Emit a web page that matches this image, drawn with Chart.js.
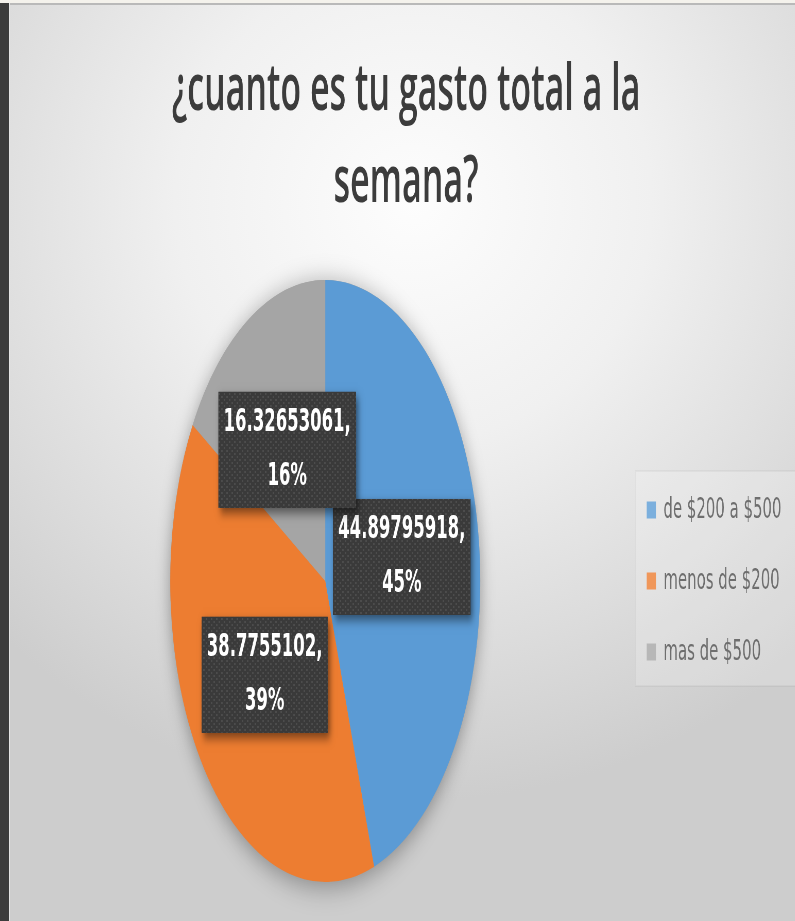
<!DOCTYPE html>
<html>
<head>
<meta charset="utf-8">
<script src="https://cdn.jsdelivr.net/npm/chart.js@4.4.1/dist/chart.umd.min.js"></script>
<style>
  html, body { margin: 0; padding: 0; background: #ffffff; }
  #page {
    position: relative; width: 795px; height: 921px; overflow: hidden;
    background: radial-gradient(ellipse 75% 65% at 52% 22%, #fdfdfd 0%, #f0f0f0 40%, #dcdcdc 75%, #cdcdcd 100%);
  }
  #strip { position: absolute; left: 0; top: 0; width: 9px; height: 921px; background: #3c3c3c; }
  #stripLine { position: absolute; left: 9px; top: 0; width: 1px; height: 921px; background: #e4e4e4; }
  #topCream { position: absolute; left: 0; top: 0; width: 795px; height: 3px; background: #f4f2ec; }
  #topLine { position: absolute; left: 10px; top: 3px; width: 785px; height: 2px; background: #b9b9b9; }
  #wrap {
    position: absolute; left: 10px; top: 0; width: 1524px; height: 921px;
    transform: scaleX(0.515); transform-origin: 0 0;
  }
</style>
</head>
<body>
<div id="page">
  <div id="wrap"><canvas id="c" width="1524" height="921"></canvas></div>
  <div id="strip"></div>
  <div id="stripLine"></div>
  <div id="topCream"></div>
  <div id="topLine"></div>
</div>
<script>
const categories = ['de $200 a $500', 'menos de $200', 'mas de $500'];
const values = [44.89795918, 38.7755102, 16.32653061];
const sliceColors = ['#5B9BD5', '#ED7D31', '#A5A5A5'];
const titleLines = ['¿cuanto es tu gasto total a la', 'semana?'];

// dotted fill for the data label boxes
const pc = document.createElement('canvas');
pc.width = 10; pc.height = 6;
const pctx = pc.getContext('2d');
pctx.fillStyle = '#3a3a3a'; pctx.fillRect(0, 0, 10, 6);
pctx.fillStyle = '#4c4c4c';
pctx.fillRect(0, 0, 3, 2); pctx.fillRect(5, 3, 3, 2);

const legendPanel = {
  id: 'legendPanel',
  beforeDatasetsDraw(chart) {
    const lg = chart.legend;
    if (!lg || !lg.legendHitBoxes || !lg.legendHitBoxes.length) return;
    const ctx = chart.ctx;
    const x0 = lg.left + 20;
    const y0 = lg.top + (lg.bottom - lg.top) / 2 - 110;
    ctx.save();
    ctx.fillStyle = 'rgba(255,255,255,0.2)';
    ctx.fillRect(x0, y0, chart.width - x0, 215);
    ctx.strokeStyle = 'rgba(0,0,0,0.04)';
    ctx.lineWidth = 2;
    ctx.strokeRect(x0, y0, chart.width - x0 + 4, 215);
    ctx.restore();
  }
};

const pieShadow = {
  id: 'pieShadow',
  beforeDatasetsDraw(chart) {
    const a = chart.getDatasetMeta(0).data[0];
    if (!a) return;
    const ctx = chart.ctx;
    ctx.save();
    ctx.shadowColor = 'rgba(0,0,0,0.35)';
    ctx.shadowBlur = 28;
    ctx.shadowOffsetY = 4;
    ctx.beginPath();
    ctx.arc(a.x, a.y, a.outerRadius, 0, Math.PI * 2);
    ctx.fillStyle = '#a0a0a0';
    ctx.fill();
    ctx.restore();
  }
};

const labelBoxes = {
  id: 'labelBoxes',
  afterDatasetsDraw(chart) {
    const ctx = chart.ctx;
    const meta = chart.getDatasetMeta(0);
    const data = chart.data.datasets[0].data;
    const total = data.reduce((s, v) => s + v, 0);
    const pattern = ctx.createPattern(pc, 'repeat');
    ctx.save();
    ctx.font = 'bold 32px "DejaVu Sans"';
    meta.data.forEach((arc, i) => {
      const p = arc.tooltipPosition();
      const l1 = String(data[i]) + ',';
      const l2 = Math.round(data[i] / total * 100) + '%';
      const w = Math.max(ctx.measureText(l1).width, ctx.measureText(l2).width) + 20;
      const h = 116;
      ctx.save();
      ctx.shadowColor = 'rgba(0,0,0,0.5)';
      ctx.shadowBlur = 10;
      ctx.shadowOffsetX = 4;
      ctx.shadowOffsetY = 5;
      ctx.fillStyle = '#3a3a3a';
      ctx.fillRect(p.x - w / 2, p.y - h / 2, w, h);
      ctx.restore();
      ctx.fillStyle = pattern;
      ctx.fillRect(p.x - w / 2, p.y - h / 2, w, h);
      ctx.fillStyle = '#ffffff';
      ctx.textAlign = 'center';
      ctx.textBaseline = 'middle';
      ctx.fillText(l1, p.x, p.y - 27);
      ctx.fillText(l2, p.x, p.y + 27);
    });
    ctx.restore();
  }
};

new Chart(document.getElementById('c'), {
  type: 'pie',
  data: {
    labels: categories,
    datasets: [{
      data: values,
      backgroundColor: sliceColors,
      borderWidth: 0
    }]
  },
  options: {
    responsive: false,
    devicePixelRatio: 1,
    animation: false,
    layout: { padding: { left: 30, right: 16, top: 0, bottom: 39 } },
    plugins: {
      title: {
        display: true,
        text: titleLines,
        color: '#3c3c3c',
        font: { family: '"Open Sans"', size: 66, weight: '600', lineHeight: 1.394 },
        padding: { top: 45, bottom: 51 }
      },
      legend: {
        position: 'right',
        fullSize: false,
        labels: {
          color: '#4a4a4a',
          font: { family: '"DejaVu Sans"', size: 29 },
          boxWidth: 18,
          boxHeight: 17,
          padding: 42
        }
      },
      tooltip: { enabled: false }
    }
  },
  plugins: [legendPanel, pieShadow, labelBoxes]
});
</script>
</body>
</html>
